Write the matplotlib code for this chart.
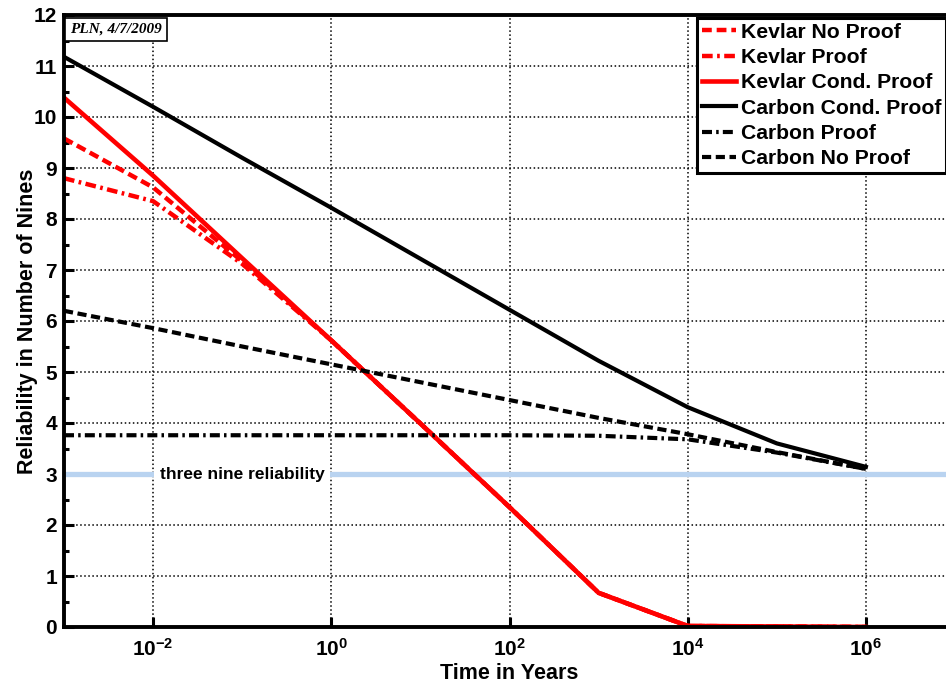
import matplotlib
matplotlib.use('Agg')
import matplotlib.pyplot as plt
from matplotlib.ticker import FixedLocator, FixedFormatter, MultipleLocator, NullLocator

plt.rcParams['font.family'] = ['Liberation Sans', 'DejaVu Sans']
plt.rcParams['font.weight'] = 'bold'
plt.rcParams['mathtext.fontset'] = 'custom'
plt.rcParams['mathtext.bf'] = 'Liberation Sans:bold'
plt.rcParams['mathtext.rm'] = 'Liberation Sans:bold'

# time points (years), one per decade
years = [1e-3, 1e-2, 1e-1, 1e0, 1e1, 1e2, 1e3, 1e4, 1e5, 1e6]

# reliability in number of nines
kevlar_no_proof = [9.58, 8.62, 7.17, 5.62, 3.99, 2.35, 0.67, 0.02, 0.01, 0.0]
kevlar_proof = [8.80, 8.35, 7.12, 5.62, 3.99, 2.35, 0.67, 0.02, 0.01, 0.0]
kevlar_cond_proof = [10.38, 8.85, 7.23, 5.62, 3.99, 2.35, 0.67, 0.02, 0.01, 0.0]
carbon_cond_proof = [11.18, 10.20, 9.20, 8.22, 7.22, 6.22, 5.22, 4.31, 3.60, 3.14]
carbon_proof = [3.76, 3.76, 3.76, 3.76, 3.76, 3.76, 3.75, 3.68, 3.42, 3.10]
carbon_no_proof = [6.20, 5.86, 5.50, 5.15, 4.80, 4.45, 4.10, 3.78, 3.43, 3.10]

three_nines = 3
xtick_vals = [1e-2, 1e0, 1e2, 1e4, 1e6]
xtick_labels = [r'$\mathbf{10^{-2}}$', r'$\mathbf{10^{0}}$', r'$\mathbf{10^{2}}$',
                r'$\mathbf{10^{4}}$', r'$\mathbf{10^{6}}$']

dash = (0, (2.2, 1.1))
dashdot = (0, (2.4, 1.0, 0.6, 1.0))

fig = plt.figure(figsize=(9.46, 6.86), dpi=100)
ax = fig.add_axes([64 / 946, 1 - 627 / 686, 891 / 946, 612 / 686])

ax.axhline(three_nines, color='#b9d3f0', lw=3.8, zorder=1.5)

ax.plot(years, kevlar_no_proof, color='red', ls=dash, lw=3.2, label='Kevlar No Proof')
ax.plot(years, kevlar_proof, color='red', ls=dashdot, lw=3.2, label='Kevlar Proof')
ax.plot(years, kevlar_cond_proof, color='red', ls='-', lw=3.3, label='Kevlar Cond. Proof')
ax.plot(years, carbon_cond_proof, color='black', ls='-', lw=3.0, label='Carbon Cond. Proof')
ax.plot(years, carbon_proof, color='black', ls=dashdot, lw=3.0, label='Carbon Proof')
ax.plot(years, carbon_no_proof, color='black', ls=dash, lw=3.0, label='Carbon No Proof')

ax.set_xscale('log')
ax.set_xlim(1e-3, 1e7)
ax.set_ylim(0, 12)
ax.xaxis.set_major_locator(FixedLocator(xtick_vals))
ax.xaxis.set_major_formatter(FixedFormatter(xtick_labels))
ax.xaxis.set_minor_locator(NullLocator())
ax.yaxis.set_major_locator(MultipleLocator(1))
ax.yaxis.set_minor_locator(MultipleLocator(0.5))

ax.grid(True, which='major', color='black', ls=':', lw=1.1)
ax.set_axisbelow(True)
ax.tick_params(which='both', direction='in', labelsize=15, width=2.2)
ax.tick_params(which='major', length=7)
ax.tick_params(which='minor', length=3.5)
ax.tick_params(axis='x', pad=8)
ax.tick_params(axis='y', pad=5)
for s in ax.spines.values():
    s.set_linewidth(2.8)

ax.set_xlabel('Time in Years', fontsize=15.5, fontweight='bold', labelpad=2)
ax.set_ylabel('Reliability in Number of Nines', fontsize=15.5, fontweight='bold', labelpad=-3)

ax.text(1e-1, three_nines, 'three nine reliability', ha='center', va='center',
        fontsize=12.5, fontweight='bold', zorder=4,
        bbox=dict(facecolor='white', edgecolor='none', pad=4))

ax.text(0.0068, 0.987, 'PLN, 4/7/2009', transform=ax.transAxes, ha='left', va='top',
        fontsize=11, fontstyle='italic', fontweight='bold', family='Liberation Serif',
        bbox=dict(facecolor='white', edgecolor='black', lw=1.2, pad=3.5))

leg = ax.legend(loc='upper left', bbox_to_anchor=(697 / 946, 1 - 18 / 686),
                bbox_transform=fig.transFigure, fontsize=15.2, frameon=True,
                fancybox=False, framealpha=1, handlelength=1.65, handletextpad=0.2,
                labelspacing=0.3, borderpad=0.22, borderaxespad=0)
leg.get_frame().set_edgecolor('black')
leg.get_frame().set_linewidth(2.2)
for t in leg.get_texts():
    t.set_fontweight('bold')

fig.savefig('out.png', dpi=100)
